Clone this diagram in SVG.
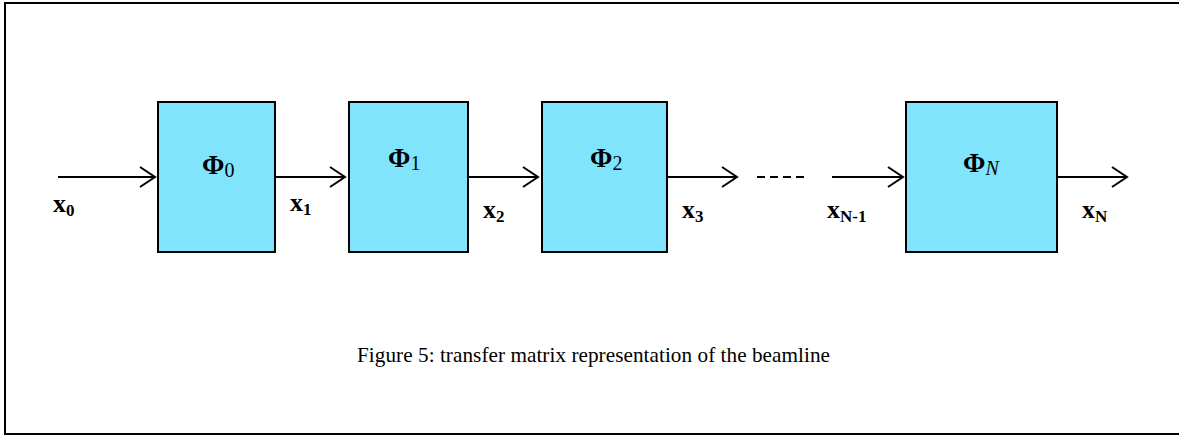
<svg xmlns="http://www.w3.org/2000/svg" width="1179" height="436" viewBox="0 0 1179 436">
<defs>
<style>
.box{fill:#80e5fc;stroke:#000;stroke-width:2}
.ln{stroke:#000;stroke-width:2;fill:none}
.phi{font-family:"Liberation Serif",serif;font-size:27px;font-weight:bold;fill:#000}
.sub{font-weight:normal;font-size:20px}
.xl{font-family:"Liberation Serif",serif;font-size:26px;font-weight:bold;fill:#000}
.xs{font-size:17px}
.cap{font-family:"Liberation Serif",serif;font-size:21.2px;fill:#000}
</style>
<marker id="ah" markerUnits="userSpaceOnUse" markerWidth="20" markerHeight="24" refX="17" refY="11" orient="auto" viewBox="0 0 20 22">
<path d="M2,1 L17,11 L2,21" fill="none" stroke="#000" stroke-width="2"/>
</marker>
</defs>
<rect width="1179" height="436" fill="#fff"/>
<rect x="5" y="3" width="1190" height="431" fill="none" stroke="#000" stroke-width="2"/>
<g id="connectors">
<line class="ln" x1="58" y1="177" x2="155" y2="177" marker-end="url(#ah)"/>
<line class="ln" x1="275" y1="177" x2="345" y2="177" marker-end="url(#ah)"/>
<line class="ln" x1="468" y1="177" x2="538" y2="177" marker-end="url(#ah)"/>
<line class="ln" x1="667" y1="177" x2="737" y2="177" marker-end="url(#ah)"/>
<line class="ln" x1="757" y1="177" x2="806" y2="177" stroke-dasharray="8,5"/>
<line class="ln" x1="832" y1="177" x2="903" y2="177" marker-end="url(#ah)"/>
<line class="ln" x1="1057" y1="177" x2="1127" y2="177" marker-end="url(#ah)"/>
</g>
<g id="phi0"><rect class="box" x="158" y="102" width="117" height="150"/><text class="phi" x="202" y="174">Φ<tspan class="sub" dy="3">0</tspan></text></g>
<g id="phi1"><rect class="box" x="349" y="102" width="119" height="150"/><text class="phi" x="388" y="167">Φ<tspan class="sub" dy="3">1</tspan></text></g>
<g id="phi2"><rect class="box" x="542" y="102" width="125" height="150"/><text class="phi" x="590" y="167">Φ<tspan class="sub" dy="3">2</tspan></text></g>
<g id="phiN"><rect class="box" x="906" y="102" width="151" height="150"/><text class="phi" x="963" y="172">Φ<tspan class="sub" dy="3" font-style="italic" font-weight="bold">N</tspan></text></g>
<g id="labels">
<text class="xl" x="53" y="212">x<tspan class="xs" dy="4">0</tspan></text>
<text class="xl" x="290" y="211">x<tspan class="xs" dy="4">1</tspan></text>
<text class="xl" x="483" y="218">x<tspan class="xs" dy="4">2</tspan></text>
<text class="xl" x="682" y="218">x<tspan class="xs" dy="4">3</tspan></text>
<text class="xl" x="827" y="218">x<tspan class="xs" dy="4">N-1</tspan></text>
<text class="xl" x="1082" y="218">x<tspan class="xs" dy="4">N</tspan></text>
</g>
<text class="cap" x="357" y="362" textLength="473">Figure 5: transfer matrix representation of the beamline</text>
</svg>
